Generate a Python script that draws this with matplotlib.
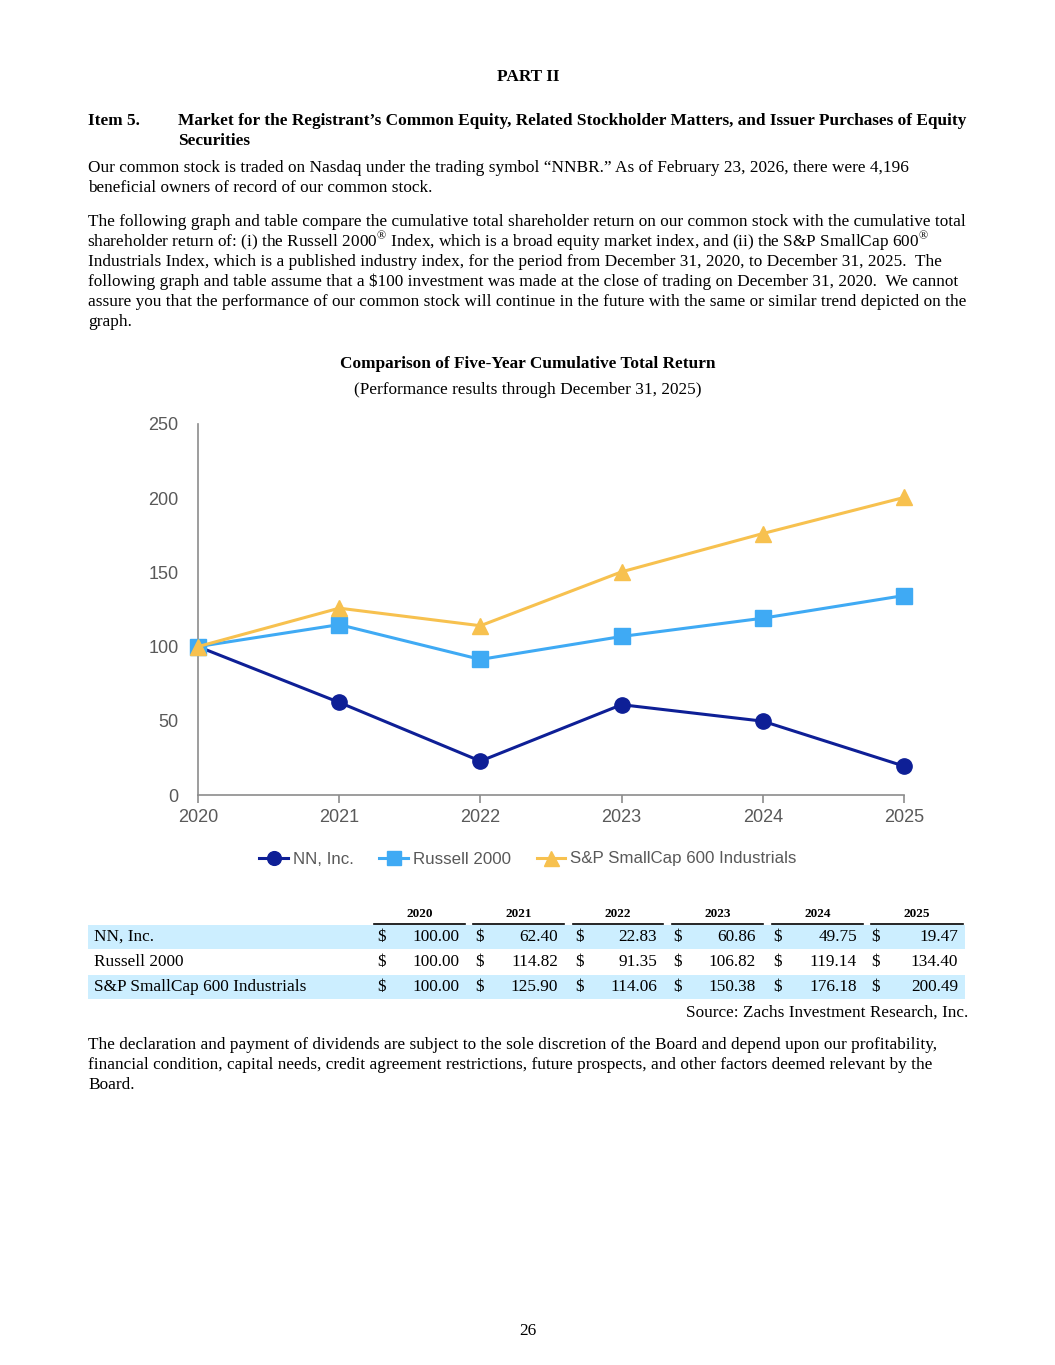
import matplotlib.pyplot as plt
from matplotlib.patches import Rectangle
from matplotlib.lines import Line2D

# =====================================================
# DATA
# =====================================================

years = [2020, 2021, 2022, 2023, 2024, 2025]

nn_inc = [100.00, 62.40, 22.83, 60.86, 49.75, 19.47]
russell_2000 = [100.00, 114.82, 91.35, 106.82, 119.14, 134.40]
sp_600_ind = [100.00, 125.90, 114.06, 150.38, 176.18, 200.49]

series_names = ["NN, Inc.", "Russell 2000", "S&P SmallCap 600 Industrials"]
y_ticks = [0, 50, 100, 150, 200, 250]

# =====================================================
# PAGE
# =====================================================

plt.rcParams["mathtext.fontset"] = "custom"
plt.rcParams["mathtext.rm"] = "Liberation Serif"

W, H = 1055, 1365
fig = plt.figure(figsize=(W / 100, H / 100), dpi=100)
fig.patch.set_facecolor("white")

SERIF = "Liberation Serif"
SANS = "Liberation Sans"
BODY = 12.4


def px(x, y):
    return x / W, 1 - y / H


def put(x, y, s, **kw):
    kw.setdefault("family", SERIF)
    kw.setdefault("fontsize", BODY)
    kw.setdefault("va", "center")
    fig.text(*px(x, y), s, **kw)


put(528, 77, "PART II", weight="bold", ha="center")
put(88, 121, "Item 5.", weight="bold")
put(178, 121, "Market for the Registrant\u2019s Common Equity, Related Stockholder Matters, "
              "and Issuer Purchases of Equity", weight="bold")
put(178, 141, "Securities", weight="bold")

para1 = [
    "Our common stock is traded on Nasdaq under the trading symbol \u201cNNBR.\u201d As of February 23, 2026, there were 4,196",
    "beneficial owners of record of our common stock.",
]
for i, line in enumerate(para1):
    put(88, 168 + i * 19.5, line)

para2 = [
    "The following graph and table compare the cumulative total shareholder return on our common stock with the cumulative total",
    "shareholder return of: (i) the Russell 2000$^{\u00ae}$ Index, which is a broad equity market index, and (ii) the S&P SmallCap 600$^{\u00ae}$",
    "Industrials Index, which is a published industry index, for the period from December 31, 2020, to December 31, 2025.  The",
    "following graph and table assume that a $100 investment was made at the close of trading on December 31, 2020.  We cannot",
    "assure you that the performance of our common stock will continue in the future with the same or similar trend depicted on the",
    "graph.",
]
for i, line in enumerate(para2):
    put(87 if i == 1 else 88, 222 + i * 20, line)

put(528, 364, "Comparison of Five-Year Cumulative Total Return", weight="bold", ha="center")
put(528, 390, "(Performance results through December 31, 2025)", ha="center")

# =====================================================
# CHART
# =====================================================

GRAY = "#595959"
ax = fig.add_axes([198 / W, 1 - 795 / H, (904 - 198) / W, (795 - 424) / H])

ax.plot(years, nn_inc, color="#0E1F96", lw=2.2, marker="o", ms=11,
        label=series_names[0], zorder=2)
ax.plot(years, russell_2000, color="#3FAAF4", lw=2.2, marker="s", ms=11,
        label=series_names[1], zorder=3)
ax.plot(years, sp_600_ind, color="#F7C14F", lw=2.2, marker="^", ms=12,
        label=series_names[2], zorder=4)

ax.set_xlim(years[0], years[-1])
ax.set_ylim(0, 250)
ax.set_xticks(years)
ax.set_yticks(y_ticks)
for s in ["top", "right"]:
    ax.spines[s].set_visible(False)
for s in ["left", "bottom"]:
    ax.spines[s].set_color("#8C8C8C")
    ax.spines[s].set_linewidth(1.2)
ax.tick_params(axis="y", length=0, pad=14, labelsize=13, labelcolor=GRAY)
ax.tick_params(axis="x", length=6, width=1.2, color="#8C8C8C", pad=4,
               labelsize=13, labelcolor=GRAY)
for lab in ax.get_xticklabels() + ax.get_yticklabels():
    lab.set_family(SANS)
for ln in ax.lines:
    ln.set_clip_on(False)

leg = fig.legend(loc="center", bbox_to_anchor=px(528, 859), ncol=3, frameon=False,
                 prop={"family": SANS, "size": 12.2}, handlelength=1.7,
                 handletextpad=0.3, columnspacing=1.5, markerscale=0.9)
for t in leg.get_texts():
    t.set_color(GRAY)

# =====================================================
# TABLE
# =====================================================

rows = [nn_inc, russell_2000, sp_600_ind]
row_y = [937, 962, 987]
dollar_x = [381, 480, 579, 678, 777, 876]
value_x = [459, 558, 657, 756, 857, 958]
line_x = [(374, 465), (473, 564), (573, 663), (672, 763), (772, 863), (871, 963)]

for (x0, x1), yr in zip(line_x, years):
    put((x0 + x1) / 2, 914, str(yr), weight="bold", fontsize=9.5, ha="center")
    fig.add_artist(Line2D([x0 / W, x1 / W], [1 - 924 / H] * 2, color="black", lw=1.2))

for i, (vals, name, y) in enumerate(zip(rows, series_names, row_y)):
    if i != 1:
        fig.add_artist(Rectangle(px(88, y + 12), (965 - 88) / W, 24.5 / H,
                                 facecolor="#CCEEFF", edgecolor="none", zorder=0))
    put(94, y, name)
    for dx, vx, v in zip(dollar_x, value_x, vals):
        put(dx, y, "$", ha="center")
        put(vx, y, f"{v:.2f}", ha="right")

put(968, 1013, "Source: Zachs Investment Research, Inc.", ha="right")

para3 = [
    "The declaration and payment of dividends are subject to the sole discretion of the Board and depend upon our profitability,",
    "financial condition, capital needs, credit agreement restrictions, future prospects, and other factors deemed relevant by the",
    "Board.",
]
for i, line in enumerate(para3):
    put(88, 1045 + i * 20, line)

put(528, 1331, "26", ha="center")

fig.savefig("out.png", dpi=100)
